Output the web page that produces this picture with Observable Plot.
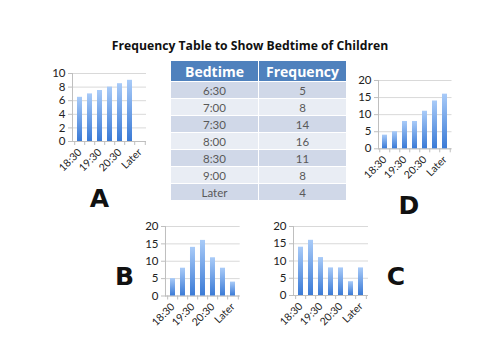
<!DOCTYPE html>
<html>
<head>
<meta charset="utf-8">
<script src="https://cdn.jsdelivr.net/npm/d3@7"></script>
<script src="https://cdn.jsdelivr.net/npm/@observablehq/plot@0.6"></script>
<style>
  html, body { margin: 0; padding: 0; background: #fff; }
  #page { position: relative; width: 500px; height: 354px; overflow: hidden; background: #fff; }
  .chart { position: absolute; }
  #overlay { position: absolute; left: 0; top: 0; pointer-events: none; }
  #freqTable { position: absolute; left: 171px; top: 61px; width: 175px; border-collapse: collapse; table-layout: fixed; }
  #freqTable th { background: #4f81bd; color: #fff; font-family: "Open Sans", sans-serif; font-weight: 700; font-size: 14px; height: 20px; padding: 0; border: 1px solid #fff; border-top: none; }
  #freqTable td { font-family: Lato, sans-serif; font-size: 11.5px; color: #595959; height: 16px; padding: 0; text-align: center; border: 1px solid #fff; }
  #freqTable tr:nth-child(odd) td { background: #d0d8e8; }
  #freqTable tr:nth-child(even) td { background: #e9edf4; }
  #freqTable th:first-child, #freqTable td:first-child { border-left: none; }
  #freqTable th:last-child, #freqTable td:last-child { border-right: none; }
</style>
</head>
<body>
<div id="page">
  <svg width="0" height="0" style="position:absolute">
    <defs>
      <linearGradient id="barGrad" x1="0" y1="0" x2="0" y2="1">
        <stop offset="0" stop-color="#a9cbf8"/>
        <stop offset="1" stop-color="#3a7ad6"/>
      </linearGradient>
    </defs>
  </svg>
</div>
<script>
// ---- data ----
const categories = ["18:30", "19:00", "19:30", "20:00", "20:30", "21:00", "Later"];
const tickLabels = ["18:30", "19:30", "20:30", "Later"];
const valuesA = [6.5, 7, 7.5, 8, 8.5, 9, null];
const valuesB = [5, 8, 14, 16, 11, 8, 4];
const valuesC = [14, 16, 11, 8, 8, 4, 8];
const valuesD = [4, 5, 8, 8, 11, 14, 16];
const yTicksA = [0, 2, 4, 6, 8, 10];
const yTicksBCD = [0, 5, 10, 15, 20];
const bedtimes = ["6:30", "7:00", "7:30", "8:00", "8:30", "9:00", "Later"];
const frequencies = [5, 8, 14, 16, 11, 8, 4];
const tableHeaders = ["Bedtime", "Frequency"];
const titleText = "Frequency Table to Show Bedtime of Children";
const panelLetters = ["A", "B", "C", "D"];

const page = document.getElementById("page");
const ML = 40, MT = 8, MR = 10, MB = 42;

function makeChart(values, yMax, yTicks, box) {
  const pw = box.right - box.left, ph = box.bottom - box.top;
  const step = pw / categories.length;
  const rows = categories.map((c, i) => ({c, v: values[i]}));
  const chart = Plot.plot({
    width: pw + ML + MR,
    height: ph + MT + MB,
    marginLeft: ML, marginTop: MT, marginRight: MR, marginBottom: MB,
    style: {fontFamily: "Lato, sans-serif", fontSize: "10.5px", color: "#222", background: "transparent", overflow: "visible"},
    x: {domain: categories, paddingInner: 0.52, paddingOuter: 0.26, label: null},
    y: {domain: [0, yMax], label: null},
    marks: [
      Plot.gridY(yTicks, {stroke: "#d9d9d9", strokeOpacity: 1}),
      Plot.axisY(yTicks, {tickSize: 4, stroke: "#bfbfbf", strokeOpacity: 1, tickPadding: 3, fontSize: 11.5, label: null}),
      Plot.frame({anchor: "left", stroke: "#bfbfbf"}),
      Plot.ruleY([0], {stroke: "#bfbfbf"}),
      Plot.barY(rows, {x: "c", y: "v", fill: "url(#barGrad)"}),
      Plot.axisX(categories, {text: null, tickSize: 4, dx: -step / 2, stroke: "#bfbfbf", strokeOpacity: 1, label: null}),
      Plot.axisX(["Later"], {text: null, tickSize: 4, dx: step / 2, stroke: "#bfbfbf", strokeOpacity: 1, label: null}),
      Plot.axisX(tickLabels, {tickSize: 0, tickRotate: -45, tickPadding: 9, label: null})
    ]
  });
  chart.classList.add("chart");
  chart.style.left = (box.left - ML) + "px";
  chart.style.top = (box.top - MT) + "px";
  page.appendChild(chart);
}

makeChart(valuesA, 10, yTicksA, {left: 72, right: 146, top: 73, bottom: 141});
makeChart(valuesD, 20, yTicksBCD, {left: 377.5, right: 451, top: 80, bottom: 148.3});
makeChart(valuesB, 20, yTicksBCD, {left: 165.3, right: 240, top: 225.5, bottom: 295});
makeChart(valuesC, 20, yTicksBCD, {left: 293.3, right: 368.3, top: 226, bottom: 295});

// ---- table ----
const table = document.createElement("table");
table.id = "freqTable";
const thead = table.createTHead();
const hr = thead.insertRow();
tableHeaders.forEach(h => { const th = document.createElement("th"); th.textContent = h; hr.appendChild(th); });
const tbody = table.createTBody();
bedtimes.forEach((b, i) => {
  const r = tbody.insertRow();
  r.insertCell().textContent = b;
  r.insertCell().textContent = frequencies[i];
});
page.appendChild(table);

// ---- title and letters ----
const ns = "http://www.w3.org/2000/svg";
const overlay = document.createElementNS(ns, "svg");
overlay.setAttribute("id", "overlay");
overlay.setAttribute("width", 500);
overlay.setAttribute("height", 354);
function addText(str, x, y, size, family, weight) {
  const t = document.createElementNS(ns, "text");
  t.setAttribute("x", x); t.setAttribute("y", y);
  t.setAttribute("text-anchor", "middle");
  t.setAttribute("font-family", family);
  t.setAttribute("font-size", size);
  t.setAttribute("font-weight", weight);
  t.setAttribute("fill", "#111");
  t.textContent = str;
  overlay.appendChild(t);
}
addText(titleText, 250, 50, 12.2, "'Open Sans', sans-serif", 700);
const letterPos = [[99.5, 207], [124.5, 285], [396, 285], [409, 214]];
panelLetters.forEach((L, i) => addText(L, letterPos[i][0], letterPos[i][1], 25, "'DejaVu Sans', sans-serif", 700));
page.appendChild(overlay);
</script>
</body>
</html>
